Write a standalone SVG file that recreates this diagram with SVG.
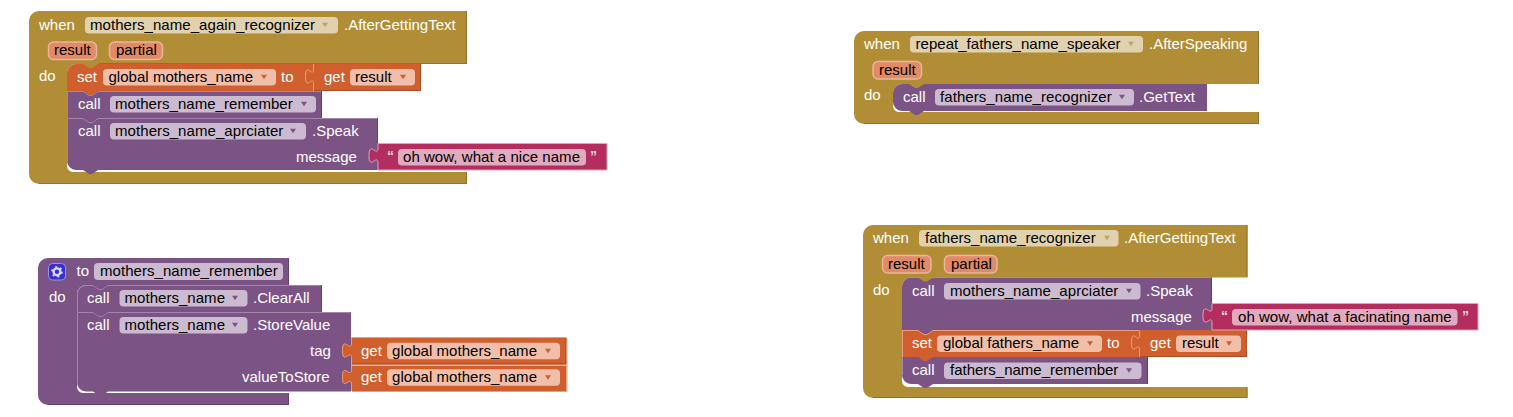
<svg xmlns="http://www.w3.org/2000/svg" width="1513" height="417" viewBox="0 0 1513 417">
<style>
text{font-family:"Liberation Sans",Arial,sans-serif;font-size:15px;fill:#fff}
.t{fill:#000}
.gold{fill:#b18e35}.pur{fill:#7c5385}.org{fill:#d05f2d}.str{fill:#b32d5e;stroke:#dca6ba;stroke-width:1}
.fg{fill:#e0d2ae}.fp{fill:#cbbad0}.fo{fill:#f1bfa9}.fs{fill:#e1abbf}
.pill{fill:#e08a68;stroke:#ecb49a;stroke-width:1.5}
.ag{fill:#b9a56c}.ap{fill:#7c5385}.ao{fill:#d05f2d}
.lp{fill:none;stroke:#a387aa;stroke-width:1}.lo{fill:none;stroke:#e89f7f;stroke-width:1}
.dp{fill:none;stroke:#64416c;stroke-width:1}.do{fill:none;stroke:#a74c24;stroke-width:1}.dg{fill:none;stroke:#8e722a;stroke-width:1}
.q{font-size:14px;font-weight:bold;fill:#f0d5df}
</style>
<defs>
<polygon id="dd" points="-3,-2.200 3,-2.200 0,2.200"/>
</defs>

<g id="block-mothers-again">
<path class="gold" d="M29 21a10 10 0 0 1 10-10H467V64H76a9 9 0 0 0-9 9V166a6 6 0 0 0 6 6H467V184H39a10 10 0 0 1-10-10Z"/>
<path class="dg" d="M39 183.500H466.500V172.500M466.500 11V63.500H99"/>
<text x="39" y="30">when</text>
<rect class="fg" x="85" y="17" width="253" height="16.500" rx="4"/>
<text class="t" x="90" y="30" textLength="225">mothers_name_again_recognizer</text>
<use href="#dd" class="ag" x="325" y="25"/>
<text x="344" y="30">.AfterGettingText</text>
<rect class="pill" x="48.500" y="42" width="48" height="17.500" rx="5"/>
<text class="t" x="54" y="55">result</text>
<rect class="pill" x="109.500" y="42" width="53" height="17.500" rx="5"/>
<text class="t" x="116" y="55">partial</text>
<text x="39" y="81">do</text>

<path class="pur" d="M67 118H378V170H98l-6 4h-3l-6-4H76a9 9 0 0 1-9-9Z"/>
<path class="lp" d="M67.500 161V118.500H83l6 4h3l6-4H377.500"/>
<path class="dp" d="M377.500 118V143"/>
<text x="78" y="136">call</text>
<rect class="fp" x="110" y="123" width="196" height="16.500" rx="4"/>
<text class="t" x="115" y="136" textLength="168.300">mothers_name_aprciater</text>
<use href="#dd" class="ap" x="293" y="131"/>
<text x="312" y="136">.Speak</text>
<text x="296" y="162">message</text>

<path class="pur" d="M67 91H322V118H98l-6 4h-3l-6-4H67Z"/>
<path class="lp" d="M67.500 118V91.500H83l6 4h3l6-4H321.500"/>
<path class="dp" d="M321.500 91V118"/>
<text x="78" y="109">call</text>
<rect class="fp" x="110" y="96" width="206" height="16.500" rx="4"/>
<text class="t" x="115" y="109" textLength="177.700">mothers_name_remember</text>
<use href="#dd" class="ap" x="304" y="104"/>

<path class="org" d="M76 64H314V91H98l-6 4h-3l-6-4H67V73a9 9 0 0 1 9-9Z"/>
<path class="gold" d="M83 64l6 4h3l6-4Z"/>
<text x="77" y="82">set</text>
<rect class="fo" x="103" y="69" width="173" height="16.500" rx="4"/>
<text class="t" x="108.500" y="82" textLength="144.700">global mothers_name</text>
<use href="#dd" class="ao" x="264" y="77"/>
<text x="281" y="82">to</text>

<g id="get-result-1">
<path class="org" d="M313 64H421V91H313V84c0-10-8 8-8-7.500s8 2.500 8-7.500Z"/>
<path class="lo" d="M313.500 91V84c0-10-8 8-8-7.500s8 2.500 8-7.500V64"/>
<path class="do" d="M314 90.500H420.500V64"/>
<text x="324" y="82">get</text>
<rect class="fo" x="350" y="69" width="65" height="16.500" rx="4"/>
<text class="t" x="355" y="82">result</text>
<use href="#dd" class="ao" x="403" y="77"/>
</g>

<g id="text-nice-name">
<path class="str" d="M378 143.500H607V170H378V163c0-10-9 8-9-7.500s9 2.500 9-7.500Z"/>
<text class="q" x="387" y="161">“</text>
<rect class="fs" x="398" y="149" width="188" height="16.500" rx="4"/>
<text class="t" x="403" y="162" textLength="177">oh wow, what a nice name</text>
<text class="q" x="590" y="161">”</text>
</g>
</g>

<g id="block-repeat-fathers">
<path class="gold" d="M854 41a10 10 0 0 1 10-10H1259V84H902a9 9 0 0 0-9 9V106a6 6 0 0 0 6 6H1259V124H864a10 10 0 0 1-10-10Z"/>
<path class="dg" d="M864 123.500H1258.500V112.500M1258.500 31V83.500"/>
<text x="864" y="48.500">when</text>
<rect class="fg" x="910" y="36" width="233" height="16.500" rx="4"/>
<text class="t" x="915.500" y="49" textLength="205">repeat_fathers_name_speaker</text>
<use href="#dd" class="ag" x="1131" y="44"/>
<text x="1149" y="49">.AfterSpeaking</text>
<rect class="pill" x="873" y="61.500" width="48.500" height="17.500" rx="5"/>
<text class="t" x="879" y="75">result</text>
<text x="864" y="100">do</text>
<path class="pur" d="M902 84H1207V111H924l-6 4h-3l-6-4H902a9 9 0 0 1-9-9V93a9 9 0 0 1 9-9Z"/>
<path class="gold" d="M909 84l6 4h3l6-4Z"/>
<text x="903" y="102">call</text>
<rect class="fp" x="935" y="89" width="199" height="16.500" rx="4"/>
<text class="t" x="940" y="102" textLength="171.700">fathers_name_recognizer</text>
<use href="#dd" class="ap" x="1122" y="97"/>
<text x="1139" y="102">.GetText</text>
</g>

<g id="proc-mothers-remember">
<path class="pur" d="M38 268a10 10 0 0 1 10-10H289V285H86a9 9 0 0 0-9 9V387a6 6 0 0 0 6 6H289V405H48a10 10 0 0 1-10-10Z"/>
<path class="dp" d="M48 404.500H288.500V393.500M288.500 258V284.500"/>
<rect x="48.500" y="263.500" width="17" height="16.500" rx="4" fill="#3a2fd0" stroke="#9a94e4" stroke-width="1"/>
<circle cx="57" cy="271.800" r="3.400" fill="none" stroke="#d9d6f5" stroke-width="2.400"/>
<circle cx="57" cy="271.800" r="5" fill="none" stroke="#d9d6f5" stroke-width="1.600" stroke-dasharray="2 3.240"/>
<text x="76.500" y="276">to</text>
<rect class="fp" x="94" y="263" width="189" height="17" rx="4"/>
<text class="t" x="100" y="276" textLength="177.700">mothers_name_remember</text>
<text x="49" y="302">do</text>

<path class="pur" d="M77 312H351V391.500H108l-6 4h-3l-6-4H86a9 9 0 0 1-9-9Z"/>
<path class="lp" d="M77.500 383V312.500H93l6 4h3l6-4H350.500"/>
<text x="87" y="330">call</text>
<rect class="fp" x="119.500" y="317" width="128" height="16.500" rx="4"/>
<text class="t" x="124.500" y="330" textLength="100.500">mothers_name</text>
<use href="#dd" class="ap" x="235" y="325"/>
<text x="253" y="330">.StoreValue</text>
<text x="310" y="356">tag</text>
<text x="242" y="382">valueToStore</text>

<path class="pur" d="M86 285H322V312H108l-6 4h-3l-6-4H77V294a9 9 0 0 1 9-9Z"/>
<path class="lp" d="M77.500 312V294a8.500 8.500 0 0 1 8.500-8.500H93l6 4h3l6-4H321.500"/>
<path class="dp" d="M321.500 285V312"/>
<path class="pur" d="M93 285l6 4h3l6-4Z"/>
<text x="87" y="303">call</text>
<rect class="fp" x="119.500" y="290" width="128" height="16.500" rx="4"/>
<text class="t" x="124.500" y="303" textLength="100.500">mothers_name</text>
<use href="#dd" class="ap" x="235" y="298"/>
<text x="253" y="303">.ClearAll</text>

<g id="get-global-1">
<path class="org" d="M351 338H566.500V364.500H351V358c0-10-9 8-9-7.500s9 2.500 9-7.500Z"/>
<path class="lo" d="M351.500 364V358c0-10-9 8-9-7.500s9 2.500 9-7.500V337.500H566.500"/>
<path class="do" d="M352 364H566V338"/>
<text x="361" y="356">get</text>
<rect class="fo" x="387" y="342.700" width="173" height="16.500" rx="4"/>
<text class="t" x="392" y="356" textLength="145">global mothers_name</text>
<use href="#dd" class="ao" x="548" y="351"/>
</g>
<g id="get-global-2">
<path class="org" d="M351 365.500H566.500V391H351V384.500c0-10-9 8-9-7.500s9 2.500 9-7.500Z"/>
<path class="lo" d="M351.500 391V384.500c0-10-9 8-9-7.500s9 2.500 9-7.500V365.500"/>
<path class="lo" d="M352 391.500H567V338"/>
<text x="361" y="382">get</text>
<rect class="fo" x="387" y="369.300" width="173" height="16.500" rx="4"/>
<text class="t" x="392" y="382" textLength="145">global mothers_name</text>
<use href="#dd" class="ao" x="548" y="377.500"/>
</g>
</g>

<g id="block-fathers-recognizer">
<path class="gold" d="M863 235a10 10 0 0 1 10-10H1247.500V277.500H911a9 9 0 0 0-9 9V381a6 6 0 0 0 6 6H1247.500V398H873a10 10 0 0 1-10-10Z"/>
<path class="dg" d="M873 397.500H1247V387.500M1247 225V277"/>
<text x="873" y="243">when</text>
<rect class="fg" x="919" y="230" width="199.500" height="16.500" rx="4"/>
<text class="t" x="925" y="243" textLength="170.700">fathers_name_recognizer</text>
<use href="#dd" class="ag" x="1107" y="238"/>
<text x="1124" y="243">.AfterGettingText</text>
<rect class="pill" x="882.500" y="255.500" width="48.500" height="17.500" rx="5"/>
<text class="t" x="888" y="269">result</text>
<rect class="pill" x="944.500" y="255.500" width="52.500" height="17.500" rx="5"/>
<text class="t" x="951" y="269">partial</text>
<text x="873" y="295">do</text>

<path class="pur" d="M902 357H1148V384H933l-6 4h-3l-6-4H911a9 9 0 0 1-9-9Z"/>
<path class="lp" d="M902.500 375V357.500"/>
<path class="dp" d="M1147.500 357V384"/>
<text x="912" y="375">call</text>
<rect class="fp" x="944" y="362.500" width="197.500" height="16.500" rx="4"/>
<text class="t" x="950" y="375" textLength="168.300">fathers_name_remember</text>
<use href="#dd" class="ap" x="1129" y="370.500"/>

<path class="org" d="M902 330H1140V357H933l-6 4h-3l-6-4H902Z"/>
<path class="lo" d="M902.500 357V330.500H918l6 4h3l6-4H1139"/>
<text x="912" y="348">set</text>
<rect class="fo" x="937" y="335.500" width="165" height="16.500" rx="4"/>
<text class="t" x="943" y="348" textLength="136">global fathers_name</text>
<use href="#dd" class="ao" x="1090" y="343.500"/>
<text x="1107" y="348">to</text>

<path class="pur" d="M911 277.500H1212V330H933l-6 4h-3l-6-4H902V286.500a9 9 0 0 1 9-9Z"/>
<path class="gold" d="M918 277.500l6 4h3l6-4Z"/>
<path class="dp" d="M1211.500 277.500V304"/>
<text x="912" y="296">call</text>
<rect class="fp" x="944" y="283" width="196.500" height="16.500" rx="4"/>
<text class="t" x="950" y="296" textLength="168.300">mothers_name_aprciater</text>
<use href="#dd" class="ap" x="1129" y="291"/>
<text x="1146" y="296">.Speak</text>
<text x="1131" y="322">message</text>

<g id="get-result-2">
<path class="org" d="M1139 330H1247V357H1139V350c0-10-8 8-8-7.500s8 2.500 8-7.500Z"/>
<path class="lo" d="M1139.500 357V350c0-10-8 8-8-7.500s8 2.500 8-7.500V330.500"/>
<path class="do" d="M1140 356.500H1246.500V330"/>
<text x="1150" y="348">get</text>
<rect class="fo" x="1176" y="335.500" width="65" height="16.500" rx="4"/>
<text class="t" x="1182" y="348">result</text>
<use href="#dd" class="ao" x="1229" y="343.500"/>
</g>

<g id="text-facinating-name">
<path class="str" d="M1212 303.500H1478V330H1212V323c0-10-9 8-9-7.500s9 2.500 9-7.500Z"/>
<text class="q" x="1221" y="321">“</text>
<rect class="fs" x="1232" y="309" width="225.500" height="16.500" rx="4"/>
<text class="t" x="1238" y="322" textLength="213.700">oh wow, what a facinating name</text>
<text class="q" x="1462" y="321">”</text>
</g>
</g>
</svg>
